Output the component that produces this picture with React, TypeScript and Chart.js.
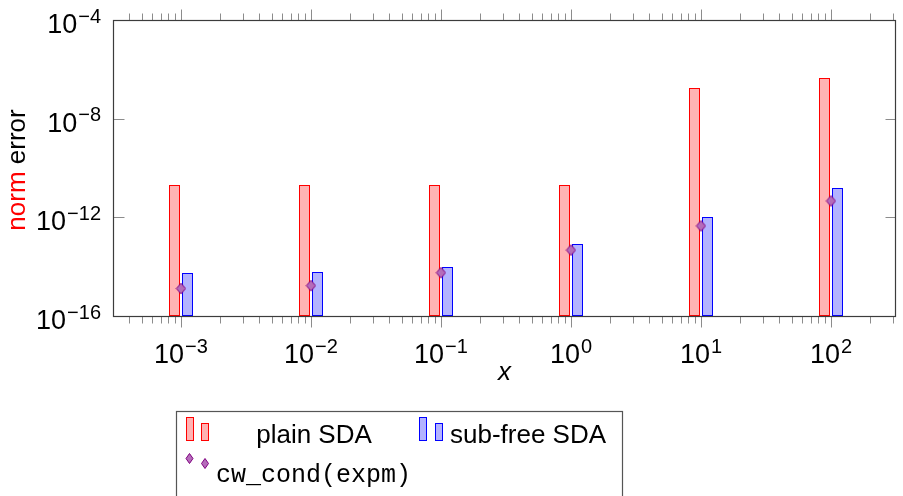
import React, { useEffect, useRef } from "react";
import { Chart, registerables } from "chart.js";

Chart.register(...registerables);

// ---- data ----
const xValues = [1e-3, 1e-2, 1e-1, 1, 10, 100];
const plainSDA = [2.0e-11, 2.0e-11, 2.0e-11, 2.0e-11, 1.7e-7, 4.6e-7];
const subFreeSDA = [5.4e-15, 6.2e-15, 1.0e-14, 8.5e-14, 1.06e-12, 1.5e-11];
const cwCond = [1.3e-15, 1.7e-15, 5.7e-15, 4.7e-14, 4.5e-13, 4.6e-12];
const xTickExponents = [-3, -2, -1, 0, 1, 2];
const yTickExponents = [-16, -12, -8, -4];
const seriesLabels = ["plain SDA", "sub-free SDA", "cw_cond(expm)"];
const xAxisTitle = "x";
const yAxisTitleParts = ["norm", "error"];

// ---- styles ----
const RED_FILL = "rgb(255,179,179)";
const RED_LINE = "#ff0000";
const BLUE_FILL = "rgb(179,179,255)";
const BLUE_LINE = "#0000ff";
const PURPLE_FILL = "rgb(181,108,186)";
const PURPLE_LINE = "#800080";
const FRAME = "#3c3c3c";
const TICK = "#8c8c8c";
const SANS = '"Liberation Sans", Arial, sans-serif';
const MONO = '"Liberation Mono", "DejaVu Sans Mono", monospace';

function makeDiamond(w: number, h: number) {
  const c = document.createElement("canvas");
  c.width = w + 2;
  c.height = h + 2;
  const g = c.getContext("2d")!;
  g.beginPath();
  g.moveTo(c.width / 2, 1);
  g.lineTo(c.width - 1, c.height / 2);
  g.lineTo(c.width / 2, c.height - 1);
  g.lineTo(1, c.height / 2);
  g.closePath();
  g.fillStyle = PURPLE_FILL;
  g.fill();
  g.strokeStyle = PURPLE_LINE;
  g.lineWidth = 1;
  g.stroke();
  return c;
}

function drawDiamond(ctx: CanvasRenderingContext2D, x: number, y: number, w: number, h: number) {
  ctx.beginPath();
  ctx.moveTo(x, y - h / 2);
  ctx.lineTo(x + w / 2, y);
  ctx.lineTo(x, y + h / 2);
  ctx.lineTo(x - w / 2, y);
  ctx.closePath();
  ctx.fillStyle = PURPLE_FILL;
  ctx.fill();
  ctx.strokeStyle = PURPLE_LINE;
  ctx.lineWidth = 1;
  ctx.stroke();
}

function powLabel(
  ctx: CanvasRenderingContext2D,
  exp: number,
  x: number,
  y: number,
  align: "center" | "right"
) {
  const base = "10";
  const sup = exp < 0 ? "\u2212" + Math.abs(exp) : String(exp);
  ctx.font = `27px ${SANS}`;
  const wb = ctx.measureText(base).width;
  ctx.font = `20px ${SANS}`;
  const ws = ctx.measureText(sup).width;
  const total = wb + 1 + ws;
  const left = align === "center" ? x - total / 2 : x - total;
  ctx.textAlign = "left";
  ctx.textBaseline = "alphabetic";
  ctx.fillStyle = "#000";
  ctx.font = `27px ${SANS}`;
  ctx.fillText(base, left, y);
  ctx.font = `20px ${SANS}`;
  ctx.fillText(sup, left + wb + 1, y - 10.5);
}

function legendBar(ctx: CanvasRenderingContext2D, x: number, y: number, w: number, h: number, fill: string, line: string) {
  ctx.fillStyle = fill;
  ctx.fillRect(x, y, w, h);
  ctx.strokeStyle = line;
  ctx.lineWidth = 1;
  ctx.strokeRect(x + 0.5, y + 0.5, w - 1, h - 1);
}

// snap the library-computed bar geometry to whole pixels for crisp edges
const snapPlugin = {
  id: "snapBars",
  beforeDatasetsDraw(chart: any) {
    chart.data.datasets.forEach((ds: any, i: number) => {
      const meta = chart.getDatasetMeta(i);
      if (meta.type !== "bar") return;
      meta.data.forEach((el: any) => {
        el.x = Math.floor(el.x) + 0.5;
        el.width = 11;
        el.y = Math.round(el.y);
        el.base = Math.round(el.base);
      });
    });
  },
};

const decorPlugin = {
  id: "pgfDecor",
  afterDraw(chart: any) {
    const ctx: CanvasRenderingContext2D = chart.ctx;
    const xs = chart.scales.x;
    const ys = chart.scales.y;
    const area = chart.chartArea;
    const L = Math.round(area.left) + 0.5;
    const R = Math.round(area.right) - 0.5;
    const T = Math.round(area.top) + 0.5;
    const B = Math.round(area.bottom) + 0.5;
    ctx.save();

    // x ticks (top & bottom, outward, with log minors)
    ctx.strokeStyle = TICK;
    ctx.lineWidth = 1;
    ctx.beginPath();
    for (let k = -4; k <= 2; k++) {
      for (let m = 1; m <= 9; m++) {
        const v = m * Math.pow(10, k);
        if (v < xs.min * 1.0001 || v > xs.max * 0.9999) continue;
        const px = Math.round(xs.getPixelForValue(v)) + 0.5;
        const len = m === 1 ? 11 : 7;
        ctx.moveTo(px, T);
        ctx.lineTo(px, T - len);
        ctx.moveTo(px, B);
        ctx.lineTo(px, B + len);
      }
    }
    // y ticks (inside, both sides)
    for (const e of yTickExponents) {
      const py = Math.round(ys.getPixelForValue(Math.pow(10, e))) + 0.5;
      ctx.moveTo(L, py);
      ctx.lineTo(L + 11, py);
      ctx.moveTo(R, py);
      ctx.lineTo(R - 10, py);
    }
    ctx.stroke();

    // frame
    ctx.strokeStyle = FRAME;
    ctx.lineWidth = 1.2;
    ctx.strokeRect(L, T, R - L, B - T);

    // x tick labels
    for (const e of xTickExponents) {
      const px = xs.getPixelForValue(Math.pow(10, e));
      powLabel(ctx, e, px, 363, "center");
    }
    // y tick labels
    for (const e of yTickExponents) {
      const py = ys.getPixelForValue(Math.pow(10, e));
      powLabel(ctx, e, 101, py + 13, "right");
    }

    // x axis title
    ctx.font = `italic 26px ${SANS}`;
    ctx.fillStyle = "#000";
    ctx.textAlign = "center";
    ctx.fillText(xAxisTitle, (area.left + area.right) / 2, 380);

    // y axis title (rotated)
    ctx.save();
    ctx.translate(25, (area.top + area.bottom) / 2 + 2);
    ctx.rotate(-Math.PI / 2);
    ctx.font = `26px ${SANS}`;
    ctx.textAlign = "left";
    const p1 = yAxisTitleParts[0] + " ";
    const w1 = ctx.measureText(p1).width;
    const w2 = ctx.measureText(yAxisTitleParts[1]).width;
    const start = -(w1 + w2) / 2;
    ctx.fillStyle = "#ff0000";
    ctx.fillText(yAxisTitleParts[0], start, 0);
    ctx.fillStyle = "#000";
    ctx.fillText(yAxisTitleParts[1], start + w1, 0);
    ctx.restore();

    // legend box
    ctx.fillStyle = "#fff";
    ctx.fillRect(177, 412, 446, 100);
    ctx.strokeStyle = "#555";
    ctx.lineWidth = 1.2;
    ctx.strokeRect(176.5, 411.5, 446, 100);

    legendBar(ctx, 186, 417, 8, 24, RED_FILL, RED_LINE);
    legendBar(ctx, 201, 423, 8, 18, RED_FILL, RED_LINE);
    legendBar(ctx, 419, 417, 8, 24, BLUE_FILL, BLUE_LINE);
    legendBar(ctx, 435, 423, 8, 18, BLUE_FILL, BLUE_LINE);
    drawDiamond(ctx, 189.5, 458.5, 7, 10);
    drawDiamond(ctx, 205, 463.5, 7, 10);

    ctx.fillStyle = "#000";
    ctx.font = `26px ${SANS}`;
    ctx.textAlign = "center";
    ctx.fillText(seriesLabels[0], 314, 443);
    ctx.textAlign = "left";
    ctx.fillText(seriesLabels[1], 450, 443);
    ctx.font = `25px ${MONO}`;
    ctx.fillText(seriesLabels[2], 216, 482);

    ctx.restore();
  },
};

export default function App() {
  const ref = useRef<HTMLCanvasElement>(null);
  useEffect(() => {
    const canvas = ref.current!;
    const diamond = makeDiamond(9, 11);
    const chart = new Chart(canvas, {
      type: "bar",
      data: {
        datasets: [
          {
            type: "line",
            label: seriesLabels[2],
            data: xValues.map((x, i) => ({ x, y: cwCond[i] })),
            showLine: false,
            pointStyle: diamond as any,
            pointRadius: 6,
            order: 0,
          } as any,
          {
            label: seriesLabels[0],
            data: xValues.map((x, i) => ({ x, y: plainSDA[i] })),
            backgroundColor: RED_FILL,
            borderColor: RED_LINE,
            borderWidth: 1,
            borderSkipped: false,
            inflateAmount: 0,
            barThickness: 13,
            maxBarThickness: 11,
            order: 1,
          },
          {
            label: seriesLabels[1],
            data: xValues.map((x, i) => ({ x, y: subFreeSDA[i] })),
            backgroundColor: BLUE_FILL,
            borderColor: BLUE_LINE,
            borderWidth: 1,
            borderSkipped: false,
            inflateAmount: 0,
            barThickness: 13,
            maxBarThickness: 11,
            order: 1,
          },
        ],
      },
      options: {
        animation: false,
        responsive: false,
        events: [],
        layout: { padding: { left: 113, top: 20, right: 1, bottom: 180 } },
        plugins: { legend: { display: false }, tooltip: { enabled: false } },
        scales: {
          x: {
            type: "logarithmic",
            min: Math.pow(10, -3.5),
            max: Math.pow(10, 2.5),
            offset: false,
            display: false,
            grid: { offset: false },
          },
          y: {
            type: "logarithmic",
            min: 1e-16,
            max: 1e-4,
            display: false,
          },
        },
      } as any,
      plugins: [snapPlugin, decorPlugin],
    });
    return () => chart.destroy();
  }, []);
  return (
    <div style={{ position: "fixed", left: 0, top: 0, width: 903, height: 496, background: "#fff" }}>
      <canvas ref={ref} width={903} height={496} style={{ display: "block", width: 903, height: 496 }} />
    </div>
  );
}
